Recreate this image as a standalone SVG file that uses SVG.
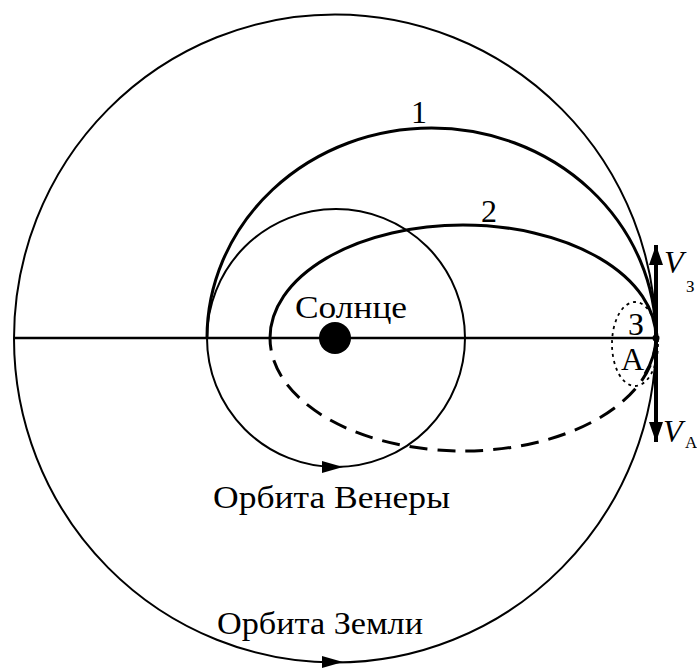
<svg xmlns="http://www.w3.org/2000/svg" width="697" height="668" viewBox="0 0 697 668">
<style>
.orbit{fill:none;stroke:#000;stroke-width:2}
.transfer{fill:none;stroke:#000;stroke-width:3}
.dash{fill:none;stroke:#000;stroke-width:3;stroke-dasharray:18 10}
.dot{fill:none;stroke:#000;stroke-width:1.8;stroke-dasharray:3 4}
.lbl{font-family:"Liberation Serif","Times New Roman",serif;font-size:32px;fill:#000}
.it{font-style:italic}
.sub{font-size:17px}
.vec{stroke:#000;stroke-width:4;fill:none}
</style>
<defs>
<marker id="head" markerUnits="userSpaceOnUse" markerWidth="22" markerHeight="16" refX="20" refY="8" orient="auto">
<path d="M0,1 L20,8 L0,15 Z" fill="#000"/>
</marker>
<marker id="ohead" markerUnits="userSpaceOnUse" markerWidth="23" markerHeight="14" refX="21" refY="7" orient="auto">
<path d="M0,1 L21,7 L0,13 Z" fill="#000"/>
</marker>
</defs>
<rect width="697" height="668" fill="#fff"/>
<g id="earth-orbit">
<ellipse class="orbit" cx="335" cy="338.5" rx="321" ry="324"/>
</g>
<g id="venus-orbit">
<circle class="orbit" cx="336" cy="338" r="129"/>
</g>
<g id="axis">
<line x1="14" y1="338" x2="656" y2="338" stroke="#000" stroke-width="2.5"/>
</g>
<g id="transfer-1">
<path class="transfer" d="M207,338 A224.5,210 0 0 1 656,338"/>
</g>
<g id="transfer-2">
<path class="transfer" d="M270,338 A193,113 0 0 1 656,338"/>
<path class="dash" d="M656,338 A193,113 0 0 1 270,338"/>
<path class="transfer" d="M656,338 A193,113 0 0 1 645,374"/>
</g>
<g id="sun">
<circle cx="335" cy="338" r="16" fill="#000"/>
</g>
<g id="point-a">
<ellipse class="dot" cx="635" cy="344" rx="23" ry="42"/>
<circle cx="656" cy="338" r="3.5" fill="#000"/>
</g>
<g id="connectors">
<line class="vec" x1="656" y1="338" x2="656" y2="245" marker-end="url(#head)"/>
<line class="vec" x1="656" y1="338" x2="656" y2="442" marker-end="url(#head)"/>
<path d="M323,467 L343,467" stroke="none" fill="none" marker-end="url(#ohead)"/>
<path d="M323,662 L343,662" stroke="none" fill="none" marker-end="url(#ohead)"/>
</g>
<g id="labels">
<text class="lbl" x="295" y="318" textLength="112" lengthAdjust="spacingAndGlyphs">Солнце</text>
<text class="lbl" x="213" y="508" textLength="237" lengthAdjust="spacingAndGlyphs">Орбита Венеры</text>
<text class="lbl" x="217" y="634" textLength="206" lengthAdjust="spacingAndGlyphs">Орбита Земли</text>
<text class="lbl" x="411" y="123">1</text>
<text class="lbl" x="481" y="222">2</text>
<text class="lbl" x="628" y="335">З</text>
<text class="lbl" x="621" y="370">А</text>
<text class="lbl it" x="664" y="273">V</text>
<text class="lbl sub" x="686" y="292">З</text>
<text class="lbl it" x="663" y="442">V</text>
<text class="lbl sub" x="685" y="448">А</text>
</g>
</svg>
